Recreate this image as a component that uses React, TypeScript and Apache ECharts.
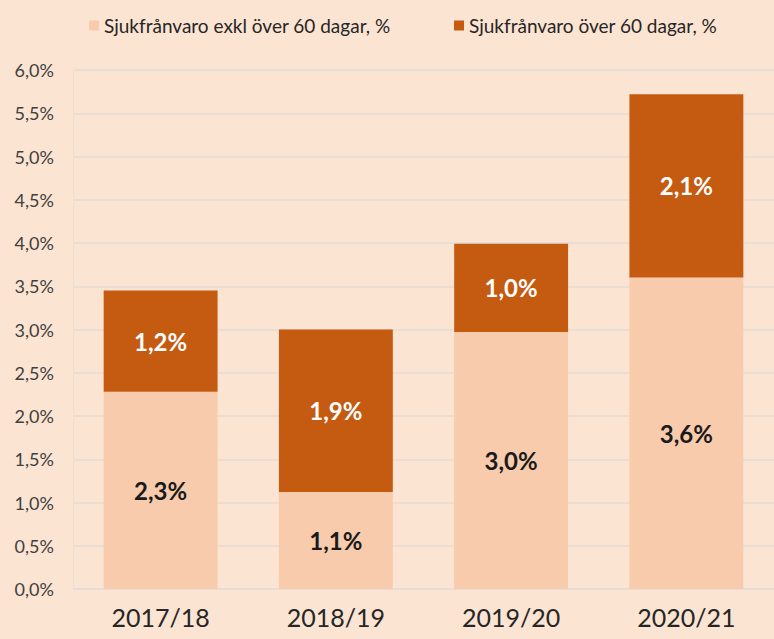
import React, { useEffect, useRef } from "react";
import * as echarts from "echarts";

const categories = ["2017/18", "2018/19", "2019/20", "2020/21"];
const exclOver60 = [2.28, 1.12, 2.97, 3.6];
const over60 = [1.17, 1.88, 1.02, 2.12];
const seriesNames = ["Sjukfrånvaro exkl över 60 dagar, %", "Sjukfrånvaro över 60 dagar, %"];

const fmt = (v: number) => v.toFixed(1).replace(".", ",") + "%";
const FONT = "Lato, 'Open Sans', sans-serif";

export default function App() {
  const ref = useRef<HTMLDivElement>(null);
  useEffect(() => {
    const chart = echarts.init(ref.current!, null, { renderer: "svg" });
    const legendBase = {
      top: 11,
      itemWidth: 10,
      itemHeight: 10,
      itemGap: 40,
      icon: "rect",
      textStyle: { fontSize: 19, color: "#262626", fontFamily: FONT },
    };
    chart.setOption({
      animation: false,
      backgroundColor: "#FCE4D2",
      textStyle: { fontFamily: FONT },
      legend: [
        { ...legendBase, left: 84, data: [seriesNames[0]] },
        { ...legendBase, left: 449, data: [seriesNames[1]] },
      ],
      grid: { left: 73, right: -3, top: 70, bottom: 50 },
      xAxis: {
        type: "category",
        data: categories,
        axisLine: { lineStyle: { color: "#E6DCD5", width: 1.5 } },
        axisTick: { show: false },
        axisLabel: { fontSize: 25, color: "#262626", margin: 15, fontFamily: FONT },
      },
      yAxis: {
        type: "value",
        min: 0,
        max: 6,
        interval: 0.5,
        axisLine: { show: true, lineStyle: { color: "#EDDFD4" } },
        axisLabel: {
          fontSize: 18,
          color: "#404040",
          margin: 19,
          fontFamily: FONT,
          formatter: (v: number) => fmt(v),
        },
        splitLine: { lineStyle: { color: "#E9DDD4", width: 2 } },
      },
      series: [
        {
          name: seriesNames[0],
          type: "bar",
          stack: "total",
          barWidth: "65%",
          data: exclOver60,
          itemStyle: { color: "#F8CBAD" },
          label: {
            show: true,
            position: "inside",
            formatter: (p: any) => fmt(p.value),
            fontSize: 24,
            fontWeight: "bold",
            color: "#1a1a1a",
            fontFamily: FONT,
          },
        },
        {
          name: seriesNames[1],
          type: "bar",
          stack: "total",
          barWidth: "65%",
          data: over60,
          itemStyle: { color: "#C55A11" },
          label: {
            show: true,
            position: "inside",
            formatter: (p: any) => fmt(p.value),
            fontSize: 24,
            fontWeight: "bold",
            color: "#FFFFFF",
            fontFamily: FONT,
          },
        },
      ],
    });
    return () => chart.dispose();
  }, []);
  return <div ref={ref} style={{ width: 774, height: 639, position: "absolute", left: 0, top: 0 }} />;
}
